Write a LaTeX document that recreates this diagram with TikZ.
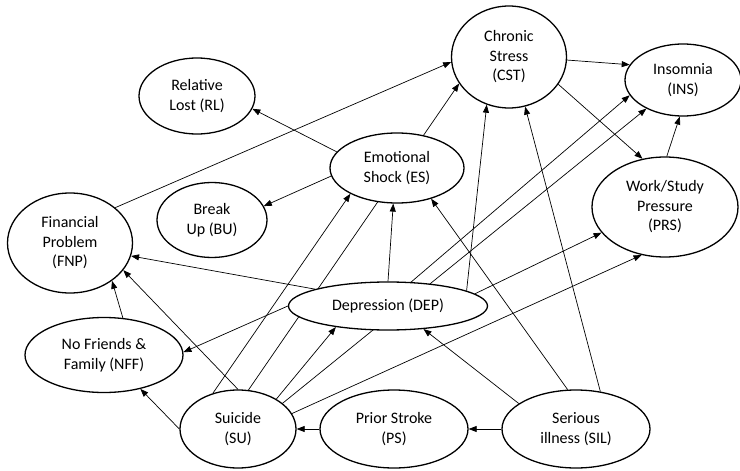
\documentclass[tikz,border=0pt]{standalone}
\usepackage{fontspec}
\setmainfont{Carlito}
\usetikzlibrary{shapes.geometric,arrows.meta,backgrounds}

\begin{document}
\begin{tikzpicture}[x=1pt,y=-1pt,
	factor/.style={ellipse,draw,line width=1.3pt,fill=white,inner sep=0pt,
		align=center,font=\fontsize{16}{19.5}\selectfont},
	link/.style={line width=0.7pt,-{Triangle[length=8pt,width=6pt]}}]
	\useasboundingbox (0,0) rectangle (740,471);
	%top row
	\node[factor,minimum width=115pt,minimum height=102pt] (cst) at (509,57) {Chronic\\Stress\\(CST)};
	\node[factor,minimum width=116pt,minimum height=72pt] (ins) at (683,80) {Insomnia\\(INS)};
	\node[factor,minimum width=116pt,minimum height=76pt] (rl) at (197,96) {Relative\\Lost (RL)};
	\node[factor,minimum width=134pt,minimum height=70pt] (es) at (397,168) {Emotional\\Shock (ES)};
	\node[factor,minimum width=110pt,minimum height=75pt] (bu) at (212,220) {Break\\Up (BU)};
	\node[factor,minimum width=146pt,minimum height=100pt] (prs) at (665,207) {Work/Study\\Pressure\\(PRS)};
	%middle
	\node[factor,minimum width=125pt,minimum height=100pt] (fnp) at (70,243) {Financial\\Problem\\(FNP)};
	\node[factor,minimum width=199pt,minimum height=48pt] (dep) at (388,306) {Depression (DEP)};
	\node[factor,minimum width=158pt,minimum height=75pt] (nff) at (104,355) {No Friends \&\\Family (NFF)};
	%bottom row
	\node[factor,minimum width=116pt,minimum height=78pt] (su) at (238,429) {Suicide\\(SU)};
	\node[factor,minimum width=148pt,minimum height=78pt] (ps) at (394,429) {Prior Stroke\\(PS)};
	\node[factor,minimum width=148pt,minimum height=78pt] (sil) at (576,429) {Serious\\illness (SIL)};
	\begin{scope}[on background layer]
		\draw[link] (fnp.38) -- (cst.185);
		\draw[link] (es.165) -- (rl.-13);
		\draw[link] (es.187) -- (bu.15);
		\draw[link] (cst.-3) -- (ins.164);
		\draw[link] (cst.-29) -- (prs.115);
		\draw[link] (prs.88) -- (ins.265);
		%from depression
		\draw[link] (dep.167) -- (fnp.-12);
		\draw[link] (dep.180) -- (nff.2);
		\draw[link] (dep.90) -- (es.264);
		\draw[link] (dep.11) -- (cst.245);
		\draw[link] (dep.46) -- (ins.196);
		\draw[link] (dep.8) -- (prs.202);
		%from suicide
		\draw[link] (su.75) -- (cst.208);
		\draw[link] (su.125) -- (es.209);
		\draw[link] (su.30) -- (ins.218);
		\draw[link] (su.16) -- (prs.244);
		\draw[link] (su.38) -- (dep.202);
		\draw[link] (su.90) -- (fnp.-27);
		\draw[link] (su.180) -- (nff.-43);
		\draw[link] (nff.63) -- (fnp.-42);
		%from serious illness
		\draw[link] (sil.180) -- (ps.0);
		\draw[link] (ps.180) -- (su.0);
		\draw[link] (sil.156) -- (dep.-33);
		\draw[link] (sil.102) -- (es.-42);
		\draw[link] (sil.57) -- (cst.-72);
	\end{scope}
\end{tikzpicture}
\end{document}
